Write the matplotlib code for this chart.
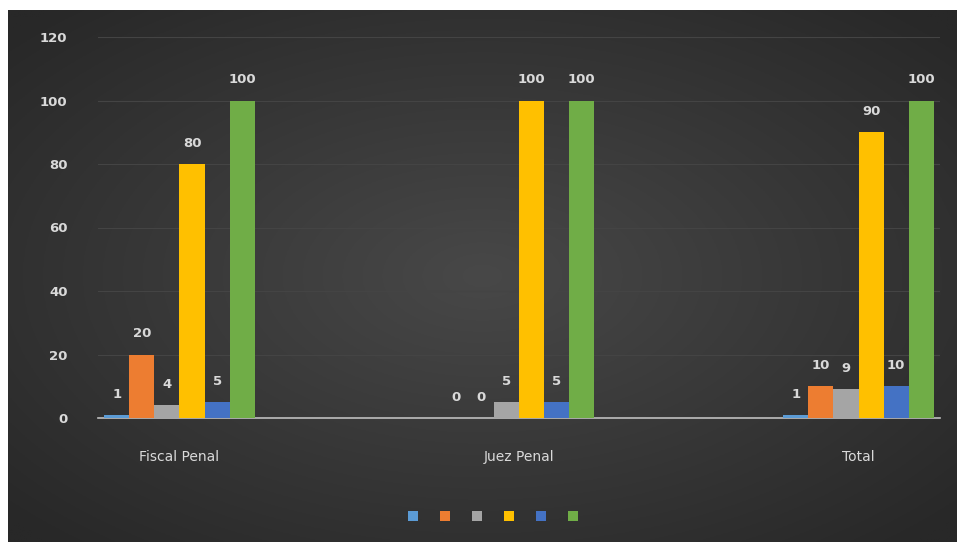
import numpy as np
import matplotlib
matplotlib.use("Agg")
import matplotlib.pyplot as plt
from matplotlib.patches import Patch

categories = ["Fiscal Penal", "Juez Penal", "Total"]
series_names = ["Serie 1", "Serie 2", "Serie 3", "Serie 4", "Serie 5", "Serie 6"]
s1 = [1, 0, 1]
s2 = [20, 0, 10]
s3 = [4, 5, 9]
s4 = [80, 100, 90]
s5 = [5, 5, 10]
s6 = [100, 100, 100]
series = [s1, s2, s3, s4, s5, s6]
colors = ["#5B9BD5", "#ED7D31", "#A5A5A5", "#FFC000", "#4472C4", "#70AD47"]
yticks = [0, 20, 40, 60, 80, 100, 120]

W, H = 957, 542
fig = plt.figure(figsize=(W / 100, H / 100), dpi=100)
fig.patch.set_facecolor("white")

# background panel with radial gradient
bg = fig.add_axes([8 / W, 0, 1 - 8 / W, 1 - 10 / H])
bg.set_axis_off()
yy, xx = np.mgrid[-1:1:300j, -1:1:500j]
r = np.sqrt(xx ** 2 + yy ** 2)
r = np.clip(r / 1.35, 0, 1)
c_in = np.array([0x48, 0x48, 0x48]) / 255
c_out = np.array([0x28, 0x28, 0x28]) / 255
img = c_in[None, None, :] * (1 - r[..., None]) + c_out[None, None, :] * r[..., None]
bg.imshow(img, aspect="auto", extent=[0, 1, 0, 1], zorder=0)

ax = fig.add_axes([98 / W, 124 / H, (940 - 98) / W, (418 - 37) / H])
ax.set_facecolor("none")
x = np.arange(len(categories))
bw = 0.074
n = len(series)
for i, (vals, col) in enumerate(zip(series, colors)):
    pos = x + (i - (n - 1) / 2) * bw
    ax.bar(pos, vals, width=bw, color=col, edgecolor="none", zorder=3)
    for px, v in zip(pos, vals):
        ax.text(px, v + 4.5, str(v), ha="center", va="bottom", color="#d9d9d9",
                fontsize=9.5, fontweight="bold", zorder=4)

ax.set_ylim(0, 120)
ax.set_xlim(-0.24, 2.24)
ax.set_yticks(yticks)
ax.set_yticklabels([str(t) for t in yticks], color="#d9d9d9", fontsize=9.5, fontweight="bold")
ax.set_xticks(x)
ax.set_xticklabels(categories, color="#d9d9d9", fontsize=10)
ax.tick_params(axis="both", length=0)
ax.tick_params(axis="y", pad=22)
ax.tick_params(axis="x", pad=23)
ax.grid(axis="y", color="#444444", linewidth=0.8, zorder=1)
for s in ["top", "right", "left"]:
    ax.spines[s].set_visible(False)
ax.spines["bottom"].set_color("#bfbfbf")
ax.spines["bottom"].set_linewidth(1.2)

handles = [Patch(facecolor=c, edgecolor="none") for c in colors]
fig.legend(handles, [""] * n, loc="center", bbox_to_anchor=(493 / W, 1 - 517 / H),
           ncol=n, frameon=False, handlelength=0.75, handleheight=0.75,
           handletextpad=0.0, columnspacing=1.55)

fig.savefig("out.png", dpi=100, facecolor=fig.get_facecolor())
